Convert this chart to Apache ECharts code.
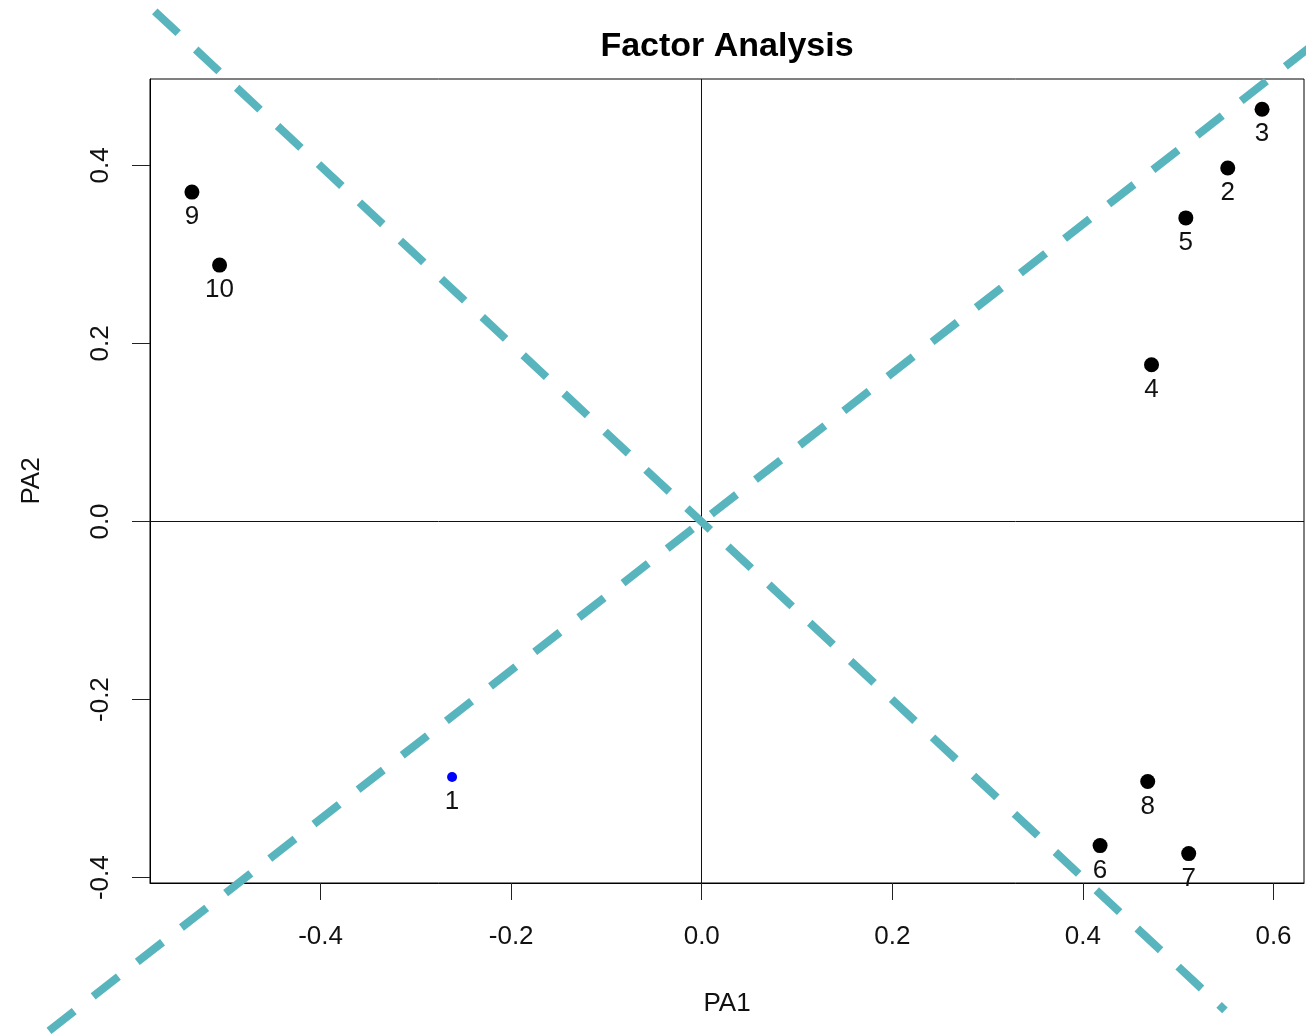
<!DOCTYPE html>
<html>
<head>
<meta charset="utf-8">
<script src="https://cdn.jsdelivr.net/npm/echarts@6/dist/echarts.min.js"></script>
<style>
  html, body { margin: 0; padding: 0; background: #fff; }
  #chart { width: 1306px; height: 1034px; }
</style>
</head>
<body>
<div id="chart"></div>
<script>
// loadings
const itemNames = ["1", "2", "3", "4", "5", "6", "7", "8", "9", "10"];
const pa1 = [-0.262, 0.552, 0.588, 0.472, 0.508, 0.418, 0.511, 0.468, -0.535, -0.506];
const pa2 = [-0.287, 0.397, 0.463, 0.176, 0.341, -0.364, -0.373, -0.292, 0.370, 0.288];

const xTicks = [-0.4, -0.2, 0, 0.2, 0.4, 0.6];
const yTicks = [-0.4, -0.2, 0, 0.2, 0.4];

// rotated reference axes (dashed)
const refLineA = [[-0.574, 0.573], [0.549, -0.549]];
const refLineB = [[-0.685, -0.572], [0.75, 0.626]];

const FONT = "Liberation Sans, Arial, Helvetica, sans-serif";
const TEAL = "#58b5be";

const W = 1306, H = 1034;
const box = { left: 150, top: 79, right: 2, bottom: 151 };
const xRange = [-0.579, 0.632];
const yRange = [-0.406, 0.497];

// the dashed lines run past the plot box, so they sit on a second,
// hidden grid covering the whole canvas with the same scale
const ux = (xRange[1] - xRange[0]) / (W - box.left - box.right);
const uy = (yRange[1] - yRange[0]) / (H - box.top - box.bottom);
const xFull = [xRange[0] - box.left * ux, xRange[1] + box.right * ux];
const yFull = [yRange[0] - box.bottom * uy, yRange[1] + box.top * uy];

const chart = echarts.init(document.getElementById("chart"));

const points = pa1.map((x, i) => {
  const item = { name: itemNames[i], value: [x, pa2[i]] };
  if (i === 0) {
    // first item is drawn smaller and in blue
    item.symbolSize = 10;
    item.itemStyle = { color: "#0000ff", opacity: 1 };
  }
  return item;
});

const dashed = (data) => ({
  type: "line",
  xAxisIndex: 1,
  yAxisIndex: 1,
  data: data,
  clip: false,
  symbol: "none",
  silent: true,
  z: 5,
  lineStyle: { color: TEAL, width: 8, type: [32, 24], cap: "butt", opacity: 1 },
});

const hiddenAxis = (range, gridIndex) => ({
  type: "value",
  gridIndex: gridIndex,
  min: range[0],
  max: range[1],
  show: false,
  splitLine: { show: false },
});

const option = {
  animation: false,
  grid: [
    {
      left: box.left,
      top: box.top,
      right: box.right,
      bottom: box.bottom,
      show: true,
      borderColor: "#000",
      borderWidth: 1,
    },
    { left: 0, top: 0, right: 0, bottom: 0 },
  ],
  xAxis: [
    {
      type: "value",
      min: xRange[0],
      max: xRange[1],
      name: "PA1",
      nameLocation: "middle",
      nameGap: 108,
      nameTextStyle: { fontFamily: FONT, fontSize: 26, color: "#111" },
      axisLine: { show: true, onZero: false, lineStyle: { color: "#000", width: 1 } },
      axisTick: { show: true, length: 17, customValues: xTicks, lineStyle: { color: "#222" } },
      axisLabel: {
        customValues: xTicks,
        margin: 41,
        fontFamily: FONT,
        fontSize: 26,
        color: "#111",
        formatter: (v) => v.toFixed(1),
      },
      splitLine: { show: false },
    },
    hiddenAxis(xFull, 1),
  ],
  yAxis: [
    {
      type: "value",
      min: yRange[0],
      max: yRange[1],
      name: "PA2",
      nameLocation: "middle",
      nameGap: 105,
      nameRotate: 90,
      nameTextStyle: { fontFamily: FONT, fontSize: 26, color: "#111" },
      axisLine: { show: true, onZero: false, lineStyle: { color: "#000", width: 1 } },
      axisTick: { show: true, length: 18, customValues: yTicks, lineStyle: { color: "#222" } },
      axisLabel: {
        customValues: yTicks,
        rotate: 90,
        margin: 36,
        fontFamily: FONT,
        fontSize: 26,
        color: "#111",
        formatter: (v) => v.toFixed(1),
      },
      splitLine: { show: false },
    },
    hiddenAxis(yFull, 1),
  ],
  graphic: [
    {
      type: "text",
      x: 727,
      y: 47,
      style: {
        text: "Factor Analysis",
        font: "bold 34px " + FONT,
        fill: "#000",
        align: "center",
        verticalAlign: "middle",
      },
    },
  ],
  series: [
    {
      type: "scatter",
      data: points,
      symbolSize: 15,
      itemStyle: { color: "#000", opacity: 1 },
      z: 3,
      label: {
        show: true,
        position: "inside",
        offset: [0, 25],
        formatter: (p) => p.name,
        fontFamily: FONT,
        fontSize: 26,
        color: "#111",
      },
      markLine: {
        silent: true,
        symbol: "none",
        label: { show: false },
        lineStyle: { color: "#111", width: 1, type: "solid", opacity: 1 },
        data: [{ xAxis: 0 }, { yAxis: 0 }],
      },
    },
    dashed(refLineA),
    dashed(refLineB),
  ],
};

chart.setOption(option);
</script>
</body>
</html>
